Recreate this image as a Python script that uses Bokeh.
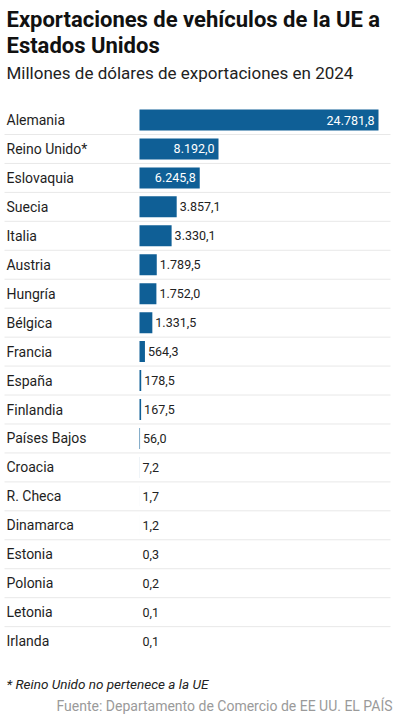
from bokeh.plotting import figure
from bokeh.models import Range1d, ColumnDataSource
from bokeh.core.properties import value
from bokeh.embed import file_html
from bokeh.resources import INLINE

countries = ["Alemania", "Reino Unido*", "Eslovaquia", "Suecia", "Italia", "Austria",
             "Hungría", "Bélgica", "Francia", "España", "Finlandia", "Países Bajos",
             "Croacia", "R. Checa", "Dinamarca", "Estonia", "Polonia", "Letonia", "Irlanda"]
exports = [24781.8, 8192.0, 6245.8, 3857.1, 3330.1, 1789.5, 1752.0, 1331.5, 564.3,
           178.5, 167.5, 56.0, 7.2, 1.7, 1.2, 0.3, 0.2, 0.1, 0.1]

title_lines = ["Exportaciones de vehículos de la UE a", "Estados Unidos"]
subtitle = "Millones de dólares de exportaciones en 2024"
footnote = "* Reino Unido no pertenece a la UE"
source_txt = "Fuente: Departamento de Comercio de EE UU. EL PAÍS"

W, H = 399, 720
MAXV = max(exports)
BAR_LEFT_PX = 139          # canvas px where value 0 sits
BAR_SPAN_PX = 239          # px for the max value
scale = BAR_SPAN_PX / MAXV
x0 = -BAR_LEFT_PX / scale
x1 = x0 + W / scale

def px(p):
    return x0 + p / scale

ROW0, ROWH, BARH = 119.5, 28.95, 21
TEXT_LEFT = 6

def fmt(v):
    s = f"{v:,.1f}"
    return s.replace(",", "X").replace(".", ",").replace("X", ".")

p = figure(width=W, height=H, output_backend="svg", toolbar_location=None,
           x_range=Range1d(x0, x1), y_range=Range1d(H, 0),
           min_border=0, min_border_left=0, min_border_right=0,
           min_border_top=0, min_border_bottom=0)
p.axis.visible = False
p.grid.visible = False
p.outline_line_color = None
p.background_fill_color = "white"
p.border_fill_color = "white"

ys = [ROW0 + i * ROWH for i in range(len(countries))]

# separators
sep_y = [(ys[i] + ys[i + 1]) / 2 for i in range(len(ys) - 1)]
p.segment(x0=[px(4)] * len(sep_y), x1=[px(390)] * len(sep_y), y0=sep_y, y1=sep_y,
          line_color="#e8e8e8", line_width=1)

src = ColumnDataSource(dict(y=ys, v=exports))
p.hbar(y="y", left=0, right="v", height=BARH, source=src, fill_color="#0f5f96",
       line_color=None)

p.text(x=[px(TEXT_LEFT)] * len(countries), y=ys, text=countries, text_font=value("Roboto"),
       text_font_size="14px", text_color="#1e1e1e", text_baseline="middle",
       text_align="left")

THR = 5000
inside = [i for i, v in enumerate(exports) if v > THR]
outside = [i for i, v in enumerate(exports) if v <= THR]
p.text(x=[exports[i] for i in inside], y=[ys[i] for i in inside],
       text=[fmt(exports[i]) for i in inside], x_offset=-4,
       text_font=value("Roboto"), text_font_size="12.5px", text_color="white",
       text_baseline="middle", text_align="right")
p.text(x=[exports[i] for i in outside], y=[ys[i] for i in outside],
       text=[fmt(exports[i]) for i in outside], x_offset=3,
       text_font=value("Roboto"), text_font_size="12.5px", text_color="#222222",
       text_baseline="middle", text_align="left")

p.text(x=[px(TEXT_LEFT), px(TEXT_LEFT)], y=[19, 45], text=title_lines, text_font=value("Roboto"),
       text_font_style="bold", text_font_size="22px", text_color="#111111",
       text_baseline="middle", text_align="left")
p.text(x=[px(TEXT_LEFT)], y=[72], text=[subtitle], text_font=value("Roboto"),
       text_font_size="17px", text_color="#222222", text_baseline="middle",
       text_align="left")
p.text(x=[px(TEXT_LEFT)], y=[683], text=[footnote], text_font=value("Roboto"),
       text_font_style="italic", text_font_size="13.5px", text_color="#222222",
       text_baseline="middle", text_align="left")
p.text(x=[px(392)], y=[705], text=[source_txt], text_font=value("Roboto"),
       text_font_size="14px", text_color="#9a9a9a", text_baseline="middle",
       text_align="right")

open("out.html", "w").write(file_html(p, INLINE))
